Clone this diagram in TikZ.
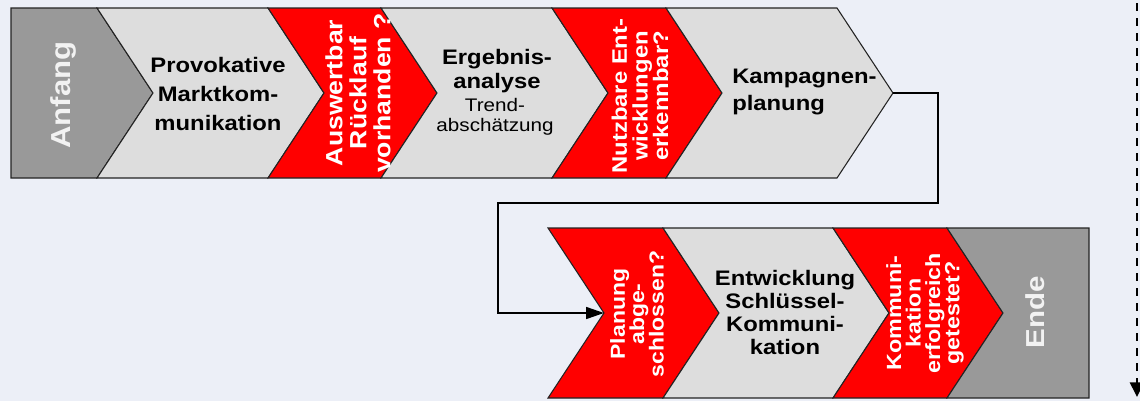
\documentclass[tikz,border=0pt]{standalone}
\usepackage{fontspec}
\setmainfont{Liberation Sans}[FakeStretch=1.134]
\usetikzlibrary{arrows.meta}
\definecolor{bg}{RGB}{236,239,247}
\definecolor{dgray}{RGB}{153,153,153}
\definecolor{lgray}{RGB}{221,221,221}
\definecolor{myred}{RGB}{255,0,0}
\definecolor{edgec}{RGB}{35,35,35}
\definecolor{endtxt}{RGB}{242,242,242}
\begin{document}
\begin{tikzpicture}[x=0.75pt,y=-0.75pt,
  seg/.style={draw=edgec, line width=0.8pt, line join=miter},
  greyseg/.style={seg, fill=dgray},
  lightseg/.style={seg, fill=lgray},
  redseg/.style={seg, fill=myred},
  lbl/.style={inner sep=0pt, align=center, text=black},
  redlbl/.style={inner sep=0pt, align=center, text=white, rotate=90},
  endlbl/.style={inner sep=0pt, text=endtxt, rotate=90, font=\fontsize{20.6}{24}\selectfont\bfseries},
  conn/.style={draw=black, line width=1.2pt, -{Triangle[length=13.5pt,width=9pt]}},
  dashconn/.style={draw=black, line width=2pt, dash pattern=on 6pt off 5.25pt, -{Triangle[length=11pt,width=10.5pt]}}
]
\fill[bg] (0,0) rectangle (1140,401);
\useasboundingbox (0,0) rectangle (1140,401);

% top row
\path[greyseg]  (11,8) -- (97,8) -- (153,93) -- (97,178) -- (11,178) -- cycle;
\path[lightseg] (97,8) -- (268,8) -- (324,93) -- (268,178) -- (97,178) -- (153,93) -- cycle;
\path[redseg]   (268,8) -- (381,8) -- (437,93) -- (381,178) -- (268,178) -- (324,93) -- cycle;
\path[lightseg] (381,8) -- (552,8) -- (608,93) -- (552,178) -- (381,178) -- (437,93) -- cycle;
\path[redseg]   (552,8) -- (666,8) -- (722,93) -- (666,178) -- (552,178) -- (608,93) -- cycle;
\path[lightseg] (666,8) -- (837,8) -- (893,93) -- (837,178) -- (666,178) -- (722,93) -- cycle;

% bottom row
\path[redseg]   (548,228) -- (663,228) -- (719,313) -- (663,398) -- (548,398) -- (604,313) -- cycle;
\path[lightseg] (663,228) -- (833,228) -- (889,313) -- (833,398) -- (663,398) -- (719,313) -- cycle;
\path[redseg]   (833,228) -- (947,228) -- (1003,313) -- (947,398) -- (833,398) -- (889,313) -- cycle;
\path[greyseg]  (947,228) -- (1089,228) -- (1089,398) -- (947,398) -- (1003,313) -- cycle;

% labels
\node[endlbl] (anfang) at (63,95) {Anfang};
\node[lbl, font=\fontsize{15.75}{21.75}\selectfont\bfseries] (provo) at (218,94) {Provokative\\ Marktkom-\\munikation};
\node[redlbl, font=\fontsize{17.6}{18}\selectfont\bfseries] (ausw) at (358,93) {Auswertbar\\Rücklauf\\vorhanden ?};
\node[lbl, font=\fontsize{15.75}{18}\selectfont\bfseries] (ergeb) at (497,71) {Ergebnis-\\analyse};
\node[lbl, font=\fontsize{13.65}{15}\selectfont] (trend) at (495,117) {Trend-\\abschätzung};
\node[redlbl, font=\fontsize{15.75}{15.4}\selectfont\bfseries] (nutz) at (640,96) {Nutzbare Ent-\\wicklungen\\erkennbar?};
\node[lbl, anchor=west, align=left, font=\fontsize{15.75}{20.25}\selectfont\bfseries] (kamp) at (732,92) {Kampagnen-\\planung};
\node[redlbl, font=\fontsize{15.2}{14.6}\selectfont\bfseries] (plan) at (637,314) {Planung\\abge-\\schlossen?};
\node[lbl, font=\fontsize{15.75}{17.25}\selectfont\bfseries] (entw) at (785,312) {Entwicklung\\Schlüssel-\\Kommuni-\\kation};
\node[redlbl, font=\fontsize{15.4}{14.6}\selectfont\bfseries] (komm) at (925,313) {Kommuni-\\kation\\erfolgreich\\getestet?};
\node[endlbl, font=\fontsize{19.5}{24}\selectfont\bfseries] (ende) at (1035,312) {Ende};

% connectors
\coordinate (kt) at (893,93);
\coordinate (pn) at (604,313);
\coordinate (dtop) at (1137,3);
\coordinate (dbot) at (1137,397);
\draw[conn] (kt) -- (938,93) -- (938,203) -- (498,203) -- (498,313) -- (pn);
\draw[dashconn] (dtop) -- (dbot);
\end{tikzpicture}
\end{document}
